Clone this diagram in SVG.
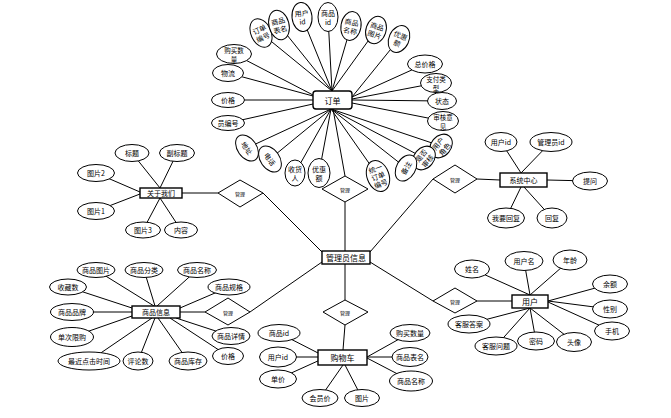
<svg xmlns="http://www.w3.org/2000/svg" width="671" height="418" viewBox="0 0 671 418">
<style>
.e{fill:#fff;stroke:#000;stroke-width:1}
.b{fill:#fff;stroke:#000;stroke-width:1.4}
.d{fill:#fff;stroke:#000;stroke-width:1}
#connectors line{stroke:#000;stroke-width:1}
text{font-family:"Noto Sans CJK SC","Noto Sans",sans-serif;font-size:7px;text-anchor:middle;dominant-baseline:central;fill:#000}
.t{font-size:8px}
.m{font-size:5px}
.n{font-size:6.5px}
</style>
<rect width="671" height="418" fill="#fff"/>
<g id="connectors">
<line x1="261" y1="33" x2="332" y2="91"/>
<line x1="279" y1="25" x2="332" y2="91"/>
<line x1="302" y1="17" x2="332" y2="91"/>
<line x1="328" y1="17" x2="332" y2="91"/>
<line x1="351" y1="26" x2="332" y2="91"/>
<line x1="376" y1="30" x2="332" y2="91"/>
<line x1="399" y1="39" x2="352" y2="97"/>
<line x1="425" y1="64" x2="352" y2="97"/>
<line x1="436" y1="83" x2="352" y2="99"/>
<line x1="442" y1="101" x2="352" y2="100"/>
<line x1="443" y1="121" x2="352" y2="103"/>
<line x1="234" y1="54" x2="313" y2="95"/>
<line x1="228" y1="73" x2="313" y2="96"/>
<line x1="228" y1="100" x2="313" y2="100"/>
<line x1="228" y1="123" x2="313" y2="104"/>
<line x1="247" y1="148" x2="331" y2="109"/>
<line x1="270" y1="159" x2="331" y2="109"/>
<line x1="295" y1="173" x2="331" y2="109"/>
<line x1="319" y1="173" x2="331" y2="109"/>
<line x1="378" y1="176" x2="331" y2="109"/>
<line x1="406" y1="168" x2="331" y2="109"/>
<line x1="424" y1="158" x2="331" y2="109"/>
<line x1="441" y1="146" x2="331" y2="109"/>
<line x1="333" y1="109" x2="345" y2="176"/>
<line x1="345" y1="202" x2="345" y2="251"/>
<line x1="132" y1="153" x2="160" y2="188"/>
<line x1="177" y1="153" x2="160" y2="188"/>
<line x1="96" y1="173" x2="140" y2="192"/>
<line x1="96" y1="211" x2="140" y2="194"/>
<line x1="143" y1="230" x2="160" y2="198"/>
<line x1="181" y1="230" x2="160" y2="198"/>
<line x1="182" y1="193" x2="218" y2="193"/>
<line x1="263" y1="193" x2="322" y2="252"/>
<line x1="501" y1="142" x2="521" y2="173"/>
<line x1="551" y1="142" x2="521" y2="173"/>
<line x1="547" y1="180" x2="590" y2="181"/>
<line x1="506" y1="218" x2="521" y2="187"/>
<line x1="552" y1="218" x2="524" y2="187"/>
<line x1="477" y1="179" x2="500" y2="180"/>
<line x1="433" y1="179" x2="370" y2="252"/>
<line x1="96" y1="270" x2="154" y2="306"/>
<line x1="144" y1="270" x2="155" y2="306"/>
<line x1="197" y1="270" x2="157" y2="306"/>
<line x1="229" y1="287" x2="180" y2="308"/>
<line x1="68" y1="287" x2="132" y2="308"/>
<line x1="72" y1="312" x2="132" y2="312"/>
<line x1="72" y1="337" x2="132" y2="316"/>
<line x1="89" y1="361" x2="152" y2="318"/>
<line x1="138" y1="361" x2="155" y2="318"/>
<line x1="188" y1="361" x2="158" y2="318"/>
<line x1="228" y1="356" x2="170" y2="318"/>
<line x1="231" y1="336" x2="176" y2="318"/>
<line x1="180" y1="312" x2="205" y2="312"/>
<line x1="250" y1="312" x2="322" y2="262"/>
<line x1="345" y1="300" x2="345" y2="264"/>
<line x1="345" y1="325" x2="343" y2="350"/>
<line x1="279" y1="333" x2="320" y2="354"/>
<line x1="278" y1="357" x2="318" y2="357"/>
<line x1="278" y1="379" x2="320" y2="360"/>
<line x1="320" y1="398" x2="343" y2="365"/>
<line x1="362" y1="398" x2="345" y2="365"/>
<line x1="410" y1="333" x2="367" y2="357"/>
<line x1="410" y1="357" x2="367" y2="357"/>
<line x1="411" y1="381" x2="367" y2="358"/>
<line x1="433" y1="301" x2="370" y2="262"/>
<line x1="477" y1="301" x2="512" y2="301"/>
<line x1="472" y1="269" x2="530" y2="295"/>
<line x1="524" y1="261" x2="530" y2="295"/>
<line x1="570" y1="260" x2="530" y2="295"/>
<line x1="610" y1="284" x2="548" y2="301"/>
<line x1="610" y1="309" x2="548" y2="301"/>
<line x1="612" y1="331" x2="548" y2="302"/>
<line x1="574" y1="342" x2="530" y2="308"/>
<line x1="536" y1="341" x2="530" y2="308"/>
<line x1="496" y1="346" x2="530" y2="308"/>
<line x1="469" y1="324" x2="530" y2="308"/>
</g>

<g id="order"><rect class="b" x="313" y="91" width="39" height="18" rx="3"/><text class="t" x="332.5" y="100">订单</text></g>
<g id="o-ddbh" transform="translate(261,33) rotate(-25)"><ellipse class="e" rx="10" ry="15"/><text><tspan x="0" y="-4">订单</tspan><tspan x="0" y="4.5">编号</tspan></text></g>
<g id="o-spbm" transform="translate(279,25) rotate(-15)"><ellipse class="e" rx="10" ry="15"/><text><tspan x="0" y="-4">商品</tspan><tspan x="0" y="4.5">表名</tspan></text></g>
<g id="o-yhid" transform="translate(302,17) rotate(-6)"><ellipse class="e" rx="10" ry="14.5"/><text><tspan x="0" y="-4">用户</tspan><tspan x="0" y="4.5">id</tspan></text></g>
<g id="o-spid" transform="translate(328,17)"><ellipse class="e" rx="10" ry="14.5"/><text><tspan x="0" y="-4">商品</tspan><tspan x="0" y="4.5">id</tspan></text></g>
<g id="o-spmc" transform="translate(351,26) rotate(10)"><ellipse class="e" rx="10" ry="14.5"/><text><tspan x="0" y="-4">商品</tspan><tspan x="0" y="4.5">名称</tspan></text></g>
<g id="o-sptp" transform="translate(376,30) rotate(18)"><ellipse class="e" rx="10" ry="14"/><text><tspan x="0" y="-4">商品</tspan><tspan x="0" y="4.5">图片</tspan></text></g>
<g id="o-yhe1" transform="translate(399,39) rotate(25)"><ellipse class="e" rx="10" ry="14"/><text><tspan x="0" y="-4">优惠</tspan><tspan x="0" y="4.5">额</tspan></text></g>
<g id="o-zjg"><ellipse class="e" cx="425" cy="64" rx="17.5" ry="9"/><text x="425" y="64">总价格</text></g>
<g id="o-zflx"><ellipse class="e" cx="436" cy="83" rx="15.5" ry="9.5"/><text class="n"><tspan x="436" y="79">支付类</tspan><tspan x="436" y="87.5">型</tspan></text></g>
<g id="o-zt"><ellipse class="e" cx="442" cy="101" rx="14.5" ry="8.5"/><text x="442" y="101">状态</text></g>
<g id="o-shyj"><ellipse class="e" cx="443" cy="121" rx="15.5" ry="9.5"/><text class="n"><tspan x="443" y="117">审核意</tspan><tspan x="443" y="125.5">见</tspan></text></g>
<g id="o-yhjs" transform="translate(441,146) rotate(-50)"><ellipse class="e" rx="13" ry="10"/><text><tspan x="0" y="-4">用户</tspan><tspan x="0" y="4.5">角色</tspan></text></g>
<g id="o-sfsh" transform="translate(424,158) rotate(-50)"><ellipse class="e" rx="13" ry="10"/><text><tspan x="0" y="-4">是否</tspan><tspan x="0" y="4.5">审核</tspan></text></g>
<g id="o-bz" transform="translate(406,168) rotate(-60)"><ellipse class="e" rx="14" ry="9.5"/><text x="0" y="0">备注</text></g>
<g id="o-tyddbh" transform="translate(378,176) rotate(-20)"><ellipse class="e" rx="11" ry="16"/><text><tspan x="0" y="-8">统一</tspan><tspan x="0" y="0">订单</tspan><tspan x="0" y="8">编号</tspan></text></g>
<g id="o-yhe2"><ellipse class="e" cx="319" cy="173" rx="11" ry="14.5"/><text><tspan x="319" y="169">优惠</tspan><tspan x="319" y="177.5">额</tspan></text></g>
<g id="o-shr"><ellipse class="e" cx="295" cy="173" rx="10" ry="13"/><text><tspan x="295" y="169">收货</tspan><tspan x="295" y="177.5">人</tspan></text></g>
<g id="o-dh" transform="translate(270,159) rotate(55)"><ellipse class="e" rx="14.5" ry="9.5"/><text x="0" y="0">电话</text></g>
<g id="o-dz" transform="translate(247,148) rotate(55)"><ellipse class="e" rx="14.5" ry="9.5"/><text x="0" y="0">地址</text></g>
<g id="o-ybh"><ellipse class="e" cx="228" cy="123" rx="16.5" ry="7.5"/><text x="228" y="123">员编号</text></g>
<g id="o-jg"><ellipse class="e" cx="228" cy="100" rx="16.5" ry="7.5"/><text x="228" y="100">价格</text></g>
<g id="o-wl"><ellipse class="e" cx="228" cy="73" rx="15.5" ry="8.5"/><text x="228" y="73">物流</text></g>
<g id="o-gmsl"><ellipse class="e" cx="234" cy="54" rx="17.5" ry="9.5"/><text class="n"><tspan x="234" y="50">购买数</tspan><tspan x="234" y="58.5">量</tspan></text></g>
<g id="rel-order"><polygon class="d" points="345,176 368,189 345,202 322,189"/><text class="m" x="345" y="189">管理</text></g>

<g id="admin"><rect class="b" x="322" y="251" width="48" height="13"/><text class="t" x="346" y="257.5">管理员信息</text></g>

<g id="about"><rect class="b" x="140" y="188" width="42" height="10"/><text x="161" y="193">关于我们</text></g>
<g id="a-bt"><ellipse class="e" cx="132" cy="153" rx="17" ry="8.5"/><text x="132" y="153">标题</text></g>
<g id="a-fbt"><ellipse class="e" cx="177" cy="153" rx="17.5" ry="8.5"/><text x="177" y="153">副标题</text></g>
<g id="a-tp2"><ellipse class="e" cx="96" cy="173" rx="18.5" ry="8.5"/><text x="96" y="173">图片2</text></g>
<g id="a-tp1"><ellipse class="e" cx="96" cy="211" rx="18.5" ry="8.5"/><text x="96" y="211">图片1</text></g>
<g id="a-tp3"><ellipse class="e" cx="143" cy="230" rx="17.5" ry="8"/><text x="143" y="230">图片3</text></g>
<g id="a-nr"><ellipse class="e" cx="181" cy="230" rx="16.5" ry="8"/><text x="181" y="230">内容</text></g>
<g id="rel-about"><polygon class="d" points="240,180 263,193 240,207 218,193"/><text class="m" x="240" y="193">管理</text></g>

<g id="system"><rect class="b" x="500" y="173" width="47" height="14"/><text x="523.5" y="180">系统中心</text></g>
<g id="s-yhid"><ellipse class="e" cx="501" cy="142" rx="16" ry="9.5"/><text x="501" y="142">用户id</text></g>
<g id="s-glyid"><ellipse class="e" cx="551" cy="142" rx="21" ry="9.5"/><text x="551" y="142">管理员id</text></g>
<g id="s-tw"><ellipse class="e" cx="590" cy="181" rx="17.5" ry="9"/><text x="590" y="181">提问</text></g>
<g id="s-wyhf"><ellipse class="e" cx="506" cy="218" rx="18.5" ry="10"/><text x="506" y="218">我要回复</text></g>
<g id="s-hf"><ellipse class="e" cx="552" cy="218" rx="15" ry="10"/><text x="552" y="218">回复</text></g>
<g id="rel-system"><polygon class="d" points="455,165 477,179 455,193 433,179"/><text class="m" x="455" y="179">管理</text></g>

<g id="goods"><rect class="b" x="132" y="306" width="48" height="12"/><text x="156" y="312">商品信息</text></g>
<g id="g-sptp"><ellipse class="e" cx="96" cy="270" rx="19" ry="7.5"/><text x="96" y="270">商品图片</text></g>
<g id="g-spfl"><ellipse class="e" cx="144" cy="270" rx="19" ry="7.5"/><text x="144" y="270">商品分类</text></g>
<g id="g-spmc"><ellipse class="e" cx="197" cy="270" rx="19.5" ry="7.5"/><text x="197" y="270">商品名称</text></g>
<g id="g-spgg"><ellipse class="e" cx="229" cy="287" rx="21" ry="8"/><text x="229" y="287">商品规格</text></g>
<g id="g-scs"><ellipse class="e" cx="68" cy="287" rx="18.5" ry="8"/><text x="68" y="287">收藏数</text></g>
<g id="g-sppp"><ellipse class="e" cx="72" cy="312" rx="21.5" ry="8.5"/><text x="72" y="312">商品品牌</text></g>
<g id="g-dcxg"><ellipse class="e" cx="72" cy="337" rx="21.5" ry="9.5"/><text x="72" y="337">单次限购</text></g>
<g id="g-zjdjsj"><ellipse class="e" cx="89" cy="361" rx="31" ry="9"/><text x="89" y="361">最近点击时间</text></g>
<g id="g-pls"><ellipse class="e" cx="138" cy="361" rx="15" ry="9"/><text x="138" y="361">评论数</text></g>
<g id="g-spkc"><ellipse class="e" cx="188" cy="361" rx="19" ry="9"/><text x="188" y="361">商品库存</text></g>
<g id="g-jg"><ellipse class="e" cx="228" cy="356" rx="15.5" ry="8.5"/><text x="228" y="356">价格</text></g>
<g id="g-spxq"><ellipse class="e" cx="231" cy="336" rx="19" ry="8.5"/><text x="231" y="336">商品详情</text></g>
<g id="rel-goods"><polygon class="d" points="228,298 250,312 228,325 205,312"/><text class="m" x="228" y="312">管理</text></g>

<g id="cart"><rect class="b" x="318" y="350" width="49" height="15"/><text class="t" x="342.5" y="357.5">购物车</text></g>
<g id="c-spid"><ellipse class="e" cx="279" cy="333" rx="21" ry="8.5"/><text x="279" y="333">商品id</text></g>
<g id="c-yhid"><ellipse class="e" cx="278" cy="357" rx="18.5" ry="10"/><text x="278" y="357">用户id</text></g>
<g id="c-dj"><ellipse class="e" cx="278" cy="379" rx="18.5" ry="9"/><text x="278" y="379">单价</text></g>
<g id="c-hyj"><ellipse class="e" cx="320" cy="398" rx="18" ry="8.5"/><text x="320" y="398">会员价</text></g>
<g id="c-tp"><ellipse class="e" cx="362" cy="398" rx="17.5" ry="8.5"/><text x="362" y="398">图片</text></g>
<g id="c-gmsl"><ellipse class="e" cx="410" cy="333" rx="20" ry="8.5"/><text x="410" y="333">购买数量</text></g>
<g id="c-spbm"><ellipse class="e" cx="410" cy="357" rx="18" ry="9.5"/><text x="410" y="357">商品表名</text></g>
<g id="c-spmc"><ellipse class="e" cx="411" cy="381" rx="21.5" ry="10"/><text x="411" y="381">商品名称</text></g>
<g id="rel-cart"><polygon class="d" points="345,300 368,312 345,325 323,312"/><text class="m" x="345" y="312">管理</text></g>

<g id="user"><rect class="b" x="512" y="295" width="36" height="13"/><text class="t" x="530" y="301.5">用户</text></g>
<g id="u-xm"><ellipse class="e" cx="472" cy="269" rx="17.5" ry="9"/><text x="472" y="269">姓名</text></g>
<g id="u-yhm"><ellipse class="e" cx="524" cy="261" rx="19" ry="9.5"/><text x="524" y="261">用户名</text></g>
<g id="u-nl"><ellipse class="e" cx="570" cy="260" rx="17" ry="10"/><text x="570" y="260">年龄</text></g>
<g id="u-ye"><ellipse class="e" cx="610" cy="284" rx="17.5" ry="9"/><text x="610" y="284">余额</text></g>
<g id="u-xb"><ellipse class="e" cx="610" cy="309" rx="17.5" ry="9"/><text x="610" y="309">性别</text></g>
<g id="u-sj"><ellipse class="e" cx="612" cy="331" rx="17.5" ry="9"/><text x="612" y="331">手机</text></g>
<g id="u-tx"><ellipse class="e" cx="574" cy="342" rx="17.5" ry="9.5"/><text x="574" y="342">头像</text></g>
<g id="u-mm"><ellipse class="e" cx="536" cy="341" rx="18.5" ry="9"/><text x="536" y="341">密码</text></g>
<g id="u-kfwt"><ellipse class="e" cx="496" cy="346" rx="21" ry="9"/><text x="496" y="346">客服问题</text></g>
<g id="u-kfda"><ellipse class="e" cx="469" cy="324" rx="21" ry="9"/><text x="469" y="324">客服答案</text></g>
<g id="rel-user"><polygon class="d" points="455,288 477,301 455,313 433,301"/><text class="m" x="455" y="301">管理</text></g>
</svg>
